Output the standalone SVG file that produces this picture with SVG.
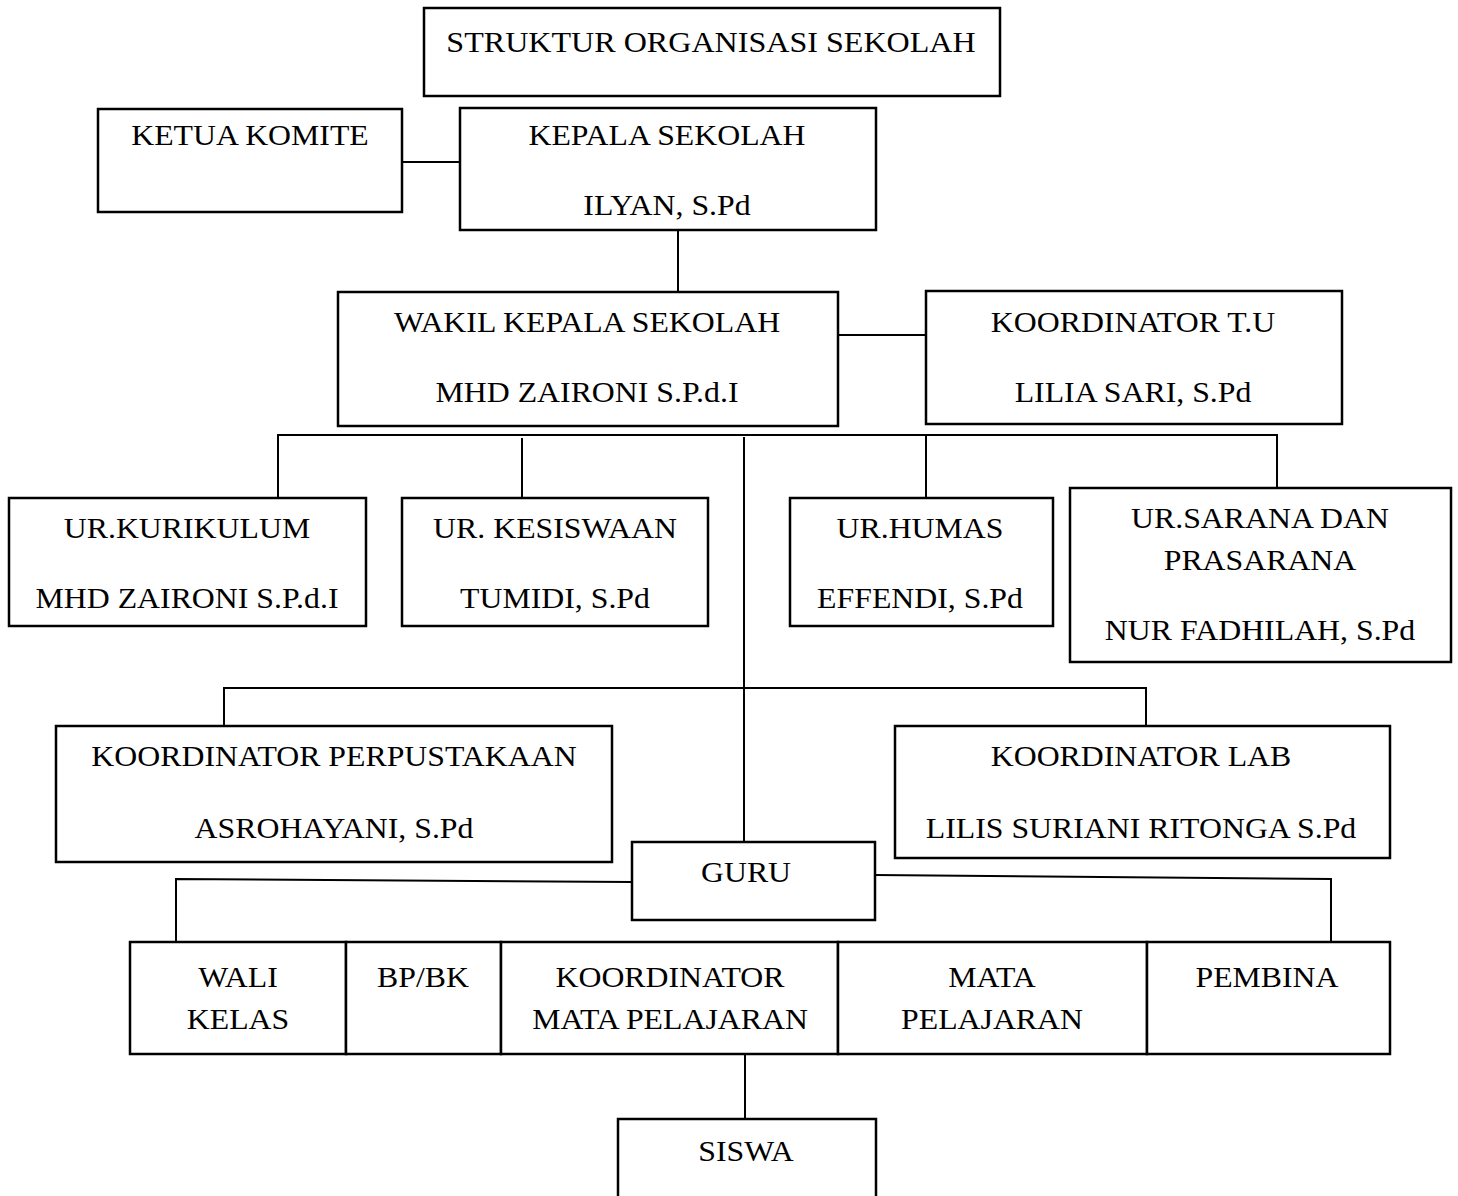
<svg xmlns="http://www.w3.org/2000/svg" width="1458" height="1196" viewBox="0 0 1458 1196">
<style>
.box{fill:#fff;stroke:#000;stroke-width:2.5}
.ln{fill:none;stroke:#000;stroke-width:2}
text{font-family:"Liberation Serif","Times New Roman",serif;font-size:30px;fill:#000;text-anchor:middle}
</style>
<rect width="1458" height="1196" fill="#fff"/>
<g id="connectors">
<line class="ln" x1="402" y1="162" x2="460" y2="162"/>
<line class="ln" x1="678" y1="230" x2="678" y2="292"/>
<line class="ln" x1="838" y1="335" x2="926" y2="335"/>
<line class="ln" x1="277" y1="435" x2="1277" y2="435"/>
<line class="ln" x1="278" y1="434" x2="278" y2="516"/>
<line class="ln" x1="522" y1="438" x2="522" y2="514"/>
<line class="ln" x1="926" y1="434" x2="926" y2="514"/>
<line class="ln" x1="1277" y1="434" x2="1277" y2="488"/>
<line class="ln" x1="744" y1="437" x2="744" y2="842"/>
<polyline class="ln" points="224,726 224,688 1146,688 1146,726"/>
<polyline class="ln" points="632,882 176,879 176,944"/>
<polyline class="ln" points="875,875 1331,879 1331,944"/>
<line class="ln" x1="745" y1="1054" x2="745" y2="1120"/>
</g>
<g id="title"><rect class="box" x="424" y="8" width="576" height="88"/><text transform="translate(711,52) scale(1.07,1)">STRUKTUR ORGANISASI SEKOLAH</text></g>
<g id="ketua-komite"><rect class="box" x="98" y="109" width="304" height="103"/><text transform="translate(250,145) scale(1.06,1)">KETUA KOMITE</text></g>
<g id="kepala-sekolah"><rect class="box" x="460" y="108" width="416" height="122"/><text transform="translate(667,145) scale(1.06,1)">KEPALA SEKOLAH</text><text transform="translate(667,215) scale(1.06,1)">ILYAN, S.Pd</text></g>
<g id="wakil-kepala"><rect class="box" x="338" y="292" width="500" height="134"/><text transform="translate(587,332) scale(1.06,1)">WAKIL KEPALA SEKOLAH</text><text transform="translate(587,402) scale(1.06,1)">MHD ZAIRONI S.P.d.I</text></g>
<g id="koordinator-tu"><rect class="box" x="926" y="291" width="416" height="133"/><text transform="translate(1133,332) scale(1.06,1)">KOORDINATOR T.U</text><text transform="translate(1133,402) scale(1.06,1)">LILIA SARI, S.Pd</text></g>
<g id="ur-kurikulum"><rect class="box" x="9" y="498" width="357" height="128"/><text transform="translate(187,538) scale(1.06,1)">UR.KURIKULUM</text><text transform="translate(187,608) scale(1.06,1)">MHD ZAIRONI S.P.d.I</text></g>
<g id="ur-kesiswaan"><rect class="box" x="402" y="498" width="306" height="128"/><text transform="translate(555,538) scale(1.06,1)">UR. KESISWAAN</text><text transform="translate(555,608) scale(1.06,1)">TUMIDI, S.Pd</text></g>
<g id="ur-humas"><rect class="box" x="790" y="498" width="263" height="128"/><text transform="translate(920,538) scale(1.06,1)">UR.HUMAS</text><text transform="translate(920,608) scale(1.06,1)">EFFENDI, S.Pd</text></g>
<g id="ur-sarana"><rect class="box" x="1070" y="488" width="381" height="174"/><text transform="translate(1260,528) scale(1.06,1)">UR.SARANA DAN</text><text transform="translate(1260,570) scale(1.06,1)">PRASARANA</text><text transform="translate(1260,640) scale(1.06,1)">NUR FADHILAH, S.Pd</text></g>
<g id="koordinator-perpustakaan"><rect class="box" x="56" y="726" width="556" height="136"/><text transform="translate(334,766) scale(1.06,1)">KOORDINATOR PERPUSTAKAAN</text><text transform="translate(334,838) scale(1.06,1)">ASROHAYANI, S.Pd</text></g>
<g id="koordinator-lab"><rect class="box" x="895" y="726" width="495" height="132"/><text transform="translate(1141,766) scale(1.06,1)">KOORDINATOR LAB</text><text transform="translate(1141,838) scale(1.06,1)">LILIS SURIANI RITONGA S.Pd</text></g>
<g id="guru"><rect class="box" x="632" y="842" width="243" height="78"/><text transform="translate(746,882) scale(1.06,1)">GURU</text></g>
<g id="wali-kelas"><rect class="box" x="130" y="942" width="216" height="112"/><text transform="translate(238,987) scale(1.06,1)">WALI</text><text transform="translate(238,1029) scale(1.06,1)">KELAS</text></g>
<g id="bp-bk"><rect class="box" x="346" y="942" width="155" height="112"/><text transform="translate(423,987) scale(1.06,1)">BP/BK</text></g>
<g id="koordinator-mapel"><rect class="box" x="501" y="942" width="337" height="112"/><text transform="translate(670,987) scale(1.06,1)">KOORDINATOR</text><text transform="translate(670,1029) scale(1.06,1)">MATA PELAJARAN</text></g>
<g id="mata-pelajaran"><rect class="box" x="838" y="942" width="309" height="112"/><text transform="translate(992,987) scale(1.06,1)">MATA</text><text transform="translate(992,1029) scale(1.06,1)">PELAJARAN</text></g>
<g id="pembina"><rect class="box" x="1147" y="942" width="243" height="112"/><text transform="translate(1267,987) scale(1.06,1)">PEMBINA</text></g>
<g id="siswa"><rect class="box" x="618" y="1119" width="258" height="90"/><text transform="translate(746,1161) scale(1.06,1)">SISWA</text></g>
</svg>
